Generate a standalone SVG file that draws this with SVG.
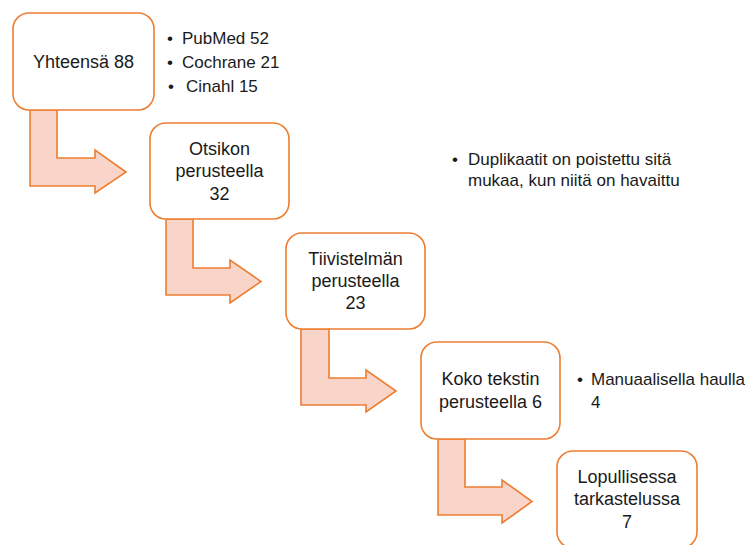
<svg xmlns="http://www.w3.org/2000/svg" width="750" height="545" viewBox="0 0 750 545">
<style>
.box{fill:#ffffff;stroke:#ED7D31;stroke-width:1.6}
.arr{fill:#F8D5C8;stroke:#ED7D31;stroke-width:1.6;stroke-linejoin:miter}
.t{font-family:"Liberation Sans",Arial,sans-serif;font-size:18px;fill:#1a1a1a;text-anchor:middle}
.b{font-family:"Liberation Sans",Arial,sans-serif;font-size:17px;fill:#1a1a1a}
</style>
<rect width="750" height="545" fill="#ffffff"/>
<g id="connectors">
<path class="arr" d="M30,110 L57,110 L57,158 L95,158 L95,150 L126,172 L95,193 L95,186 L30,186 Z"/>
<path class="arr" d="M166,219 L193,219 L193,268 L230,268 L230,260 L261,281.5 L230,303 L230,295 L166,295 Z"/>
<path class="arr" d="M301,329 L329,329 L329,378 L366,378 L366,370 L396,391 L366,412 L366,405 L301,405 Z"/>
<path class="arr" d="M438,439 L465,439 L465,487 L502,487 L502,480 L532,501.5 L502,523 L502,515 L438,515 Z"/>
</g>
<g id="n1">
<rect class="box" x="13" y="13" width="141" height="97" rx="16"/>
<text class="t" x="83.5" y="68">Yhteensä 88</text>
</g>
<g id="n1notes">
<text class="b" x="167" y="44">•</text><text class="b" x="182" y="44">PubMed 52</text>
<text class="b" x="167" y="68">•</text><text class="b" x="182" y="68">Cochrane 21</text>
<text class="b" x="168" y="92">•</text><text class="b" x="186" y="92">Cinahl 15</text>
</g>
<g id="n2">
<rect class="box" x="150" y="123" width="139" height="96" rx="16"/>
<text class="t" x="219.5" y="155">Otsikon</text>
<text class="t" x="219.5" y="177">perusteella</text>
<text class="t" x="219.5" y="200">32</text>
</g>
<g id="n2notes">
<text class="b" x="452" y="165">•</text><text class="b" x="468" y="165">Duplikaatit on poistettu sitä</text>
<text class="b" x="468" y="186">mukaa, kun niitä on havaittu</text>
</g>
<g id="n3">
<rect class="box" x="286" y="233" width="139" height="96" rx="16"/>
<text class="t" x="355.5" y="265">Tiivistelmän</text>
<text class="t" x="355.5" y="287">perusteella</text>
<text class="t" x="355.5" y="309">23</text>
</g>
<g id="n4">
<rect class="box" x="421" y="342" width="139" height="97" rx="16"/>
<text class="t" x="490.5" y="385">Koko tekstin</text>
<text class="t" x="490.5" y="408">perusteella 6</text>
</g>
<g id="n4notes">
<text class="b" x="577" y="385">•</text><text class="b" x="591" y="385">Manuaalisella haulla</text>
<text class="b" x="591" y="408">4</text>
</g>
<g id="n5">
<rect class="box" x="557" y="451" width="140" height="97" rx="16"/>
<text class="t" x="627" y="483">Lopullisessa</text>
<text class="t" x="627" y="505">tarkastelussa</text>
<text class="t" x="627" y="528">7</text>
</g>
</svg>
